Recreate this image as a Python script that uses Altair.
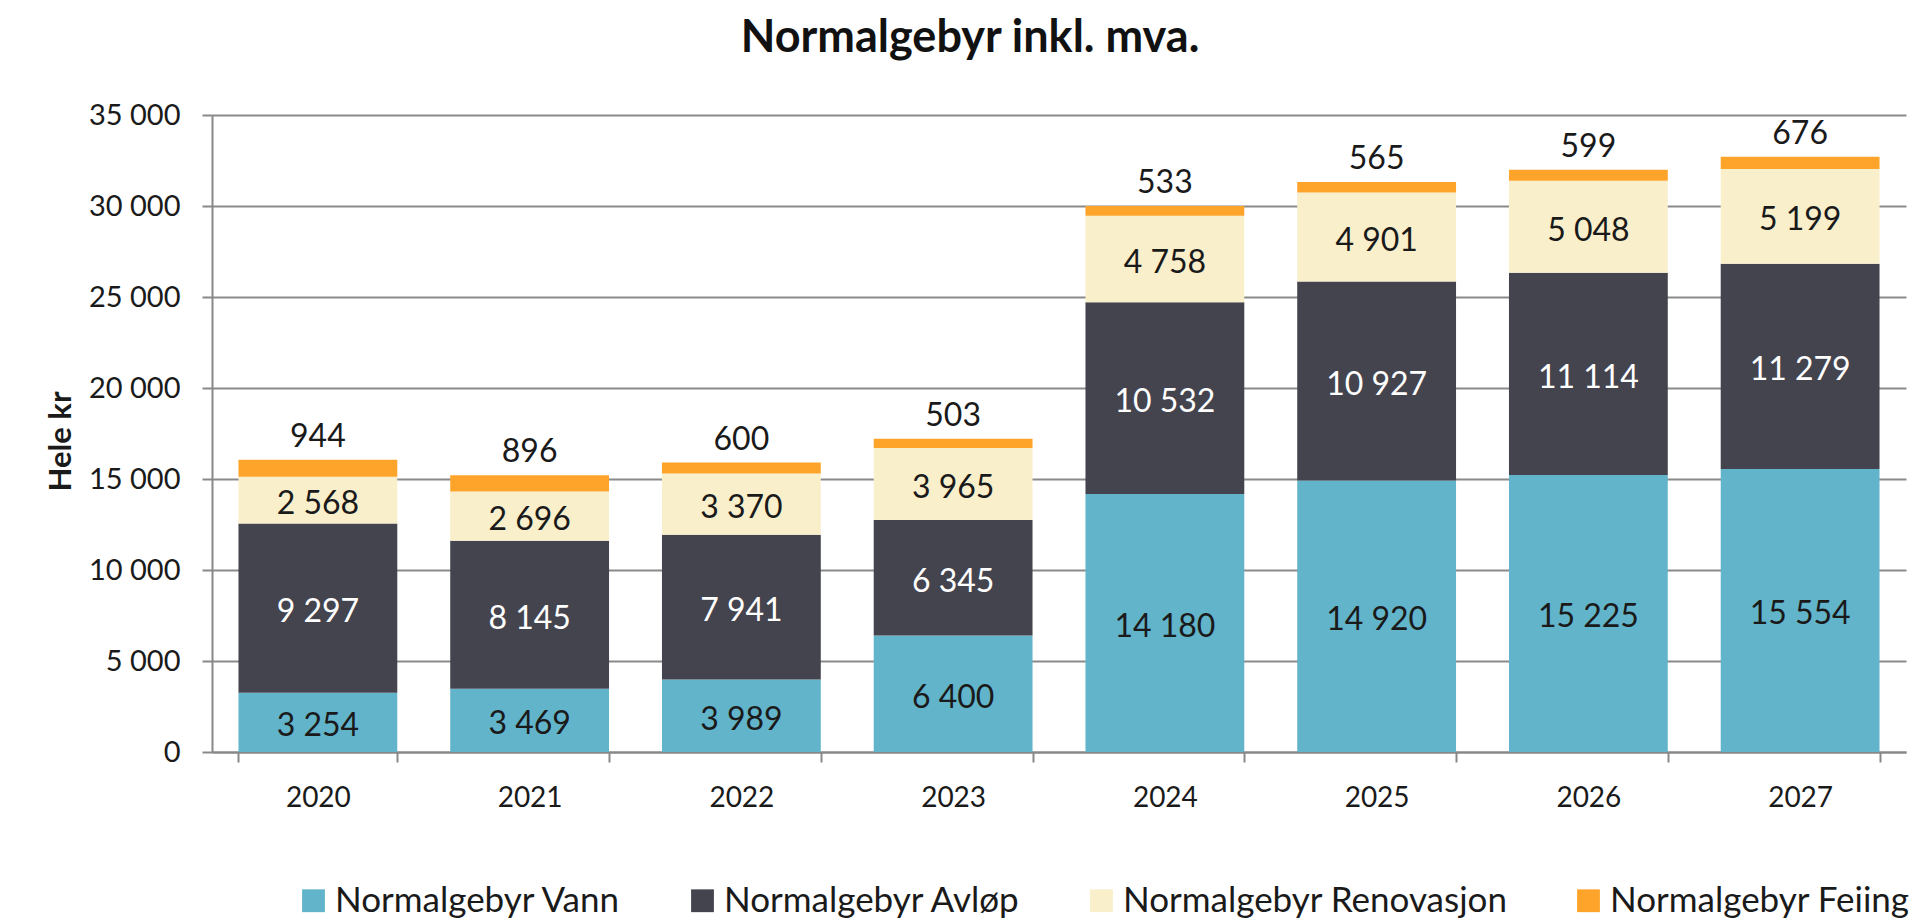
import altair as alt
import pandas as pd

years = ["2020", "2021", "2022", "2023", "2024", "2025", "2026", "2027"]
series = ["Normalgebyr Vann", "Normalgebyr Avløp", "Normalgebyr Renovasjon", "Normalgebyr Feiing"]
vann = [3254, 3469, 3989, 6400, 14180, 14920, 15225, 15554]
avlop = [9297, 8145, 7941, 6345, 10532, 10927, 11114, 11279]
renovasjon = [2568, 2696, 3370, 3965, 4758, 4901, 5048, 5199]
feiing = [944, 896, 600, 503, 533, 565, 599, 676]
colors = ["#62B4CA", "#44444F", "#F9EFCB", "#FFA42B"]
label_colors = ["#1a1a1a", "#ffffff", "#1a1a1a", "#1a1a1a"]
y_ticks = [0, 5000, 10000, 15000, 20000, 25000, 30000, 35000]

rows = []
for si, (name, vals) in enumerate(zip(series, [vann, avlop, renovasjon, feiing])):
    for y, v in zip(years, vals):
        rows.append({"year": y, "series": name, "value": v, "order": si,
                     "lc": label_colors[si]})
df = pd.DataFrame(rows)

FONT = "Lato"
fmt = "replace(format(datum.value, ','), /,/g, ' ')"

base = alt.Chart(df).transform_stack(
    stack="value", groupby=["year"], as_=["v0", "v1"],
    sort=[alt.SortField("order", order="ascending")]
).transform_calculate(
    mid="(datum.v0 + datum.v1) / 2",
    lab=fmt,
)

xenc = alt.X("year:N", sort=years, title=None,
             scale=alt.Scale(paddingInner=0.25, paddingOuter=0.125),
             axis=alt.Axis(labelAngle=0, labelFont=FONT, labelFontSize=28,
                           labelColor="#1a1a1a", labelPadding=22,
                           tickBand="extent", tickSize=10, tickColor="#888888",
                           tickWidth=2, domainColor="#888888", domainWidth=2))

bars = base.mark_bar().encode(
    x=xenc,
    y=alt.Y("v0:Q", scale=alt.Scale(domain=[0, 35000], nice=False),
            title="Hele kr",
            axis=alt.Axis(values=y_ticks, labelExpr=fmt, labelFont=FONT,
                          labelFontSize=29, labelColor="#1a1a1a",
                          labelPadding=22, tickSize=10, tickColor="#888888",
                          tickWidth=2, domainColor="#888888", domainWidth=2,
                          gridColor="#8a8a8a", gridWidth=2,
                          titleFont=FONT, titleFontSize=31, titleFontWeight="bold",
                          titleColor="#1a1a1a", titleX=-151, titleY=326,
                          titleAngle=270, titleAlign="center",
                          titleBaseline="middle")),
    y2="v1:Q",
    color=alt.Color("series:N", sort=series,
                    scale=alt.Scale(domain=series, range=colors),
                    legend=alt.Legend(title=None, orient="none", direction="horizontal",
                                      legendX=84, legendY=768,
                                      symbolType="square", symbolSize=520,
                                      symbolStrokeWidth=0, symbolOpacity=1,
                                      labelFont=FONT, labelFontSize=35,
                                      labelColor="#1a1a1a", columnPadding=63,
                                      labelLimit=700, symbolOffset=0)),
)

inner = base.transform_filter(alt.datum.order < 3).mark_text(
    font=FONT, fontSize=32, baseline="middle", align="center", dy=4
).encode(
    x=alt.X("year:N", sort=years),
    y=alt.Y("mid:Q"),
    text="lab:N",
    color=alt.Color("lc:N", scale=None),
)

top = base.transform_filter(alt.datum.order == 3).mark_text(
    font=FONT, fontSize=32, baseline="bottom", align="center", dy=-6,
    color="#1a1a1a"
).encode(
    x=alt.X("year:N", sort=years),
    y=alt.Y("v1:Q"),
    text="lab:N",
)

chart = alt.layer(bars, inner, top).properties(
    width=1694, height=637,
    title=alt.TitleParams("Normalgebyr inkl. mva.", font=FONT, fontSize=45,
                          fontWeight="bold", color="#111111", anchor="middle",
                          dx=-89, offset=18, baseline="middle"),
    autosize=alt.AutoSizeParams(type="none"),
    padding={"left": 204, "top": 107, "right": 17, "bottom": 170},
).configure_view(stroke=None)

chart.save("out.html", embed_options={"renderer": "svg", "actions": False})
